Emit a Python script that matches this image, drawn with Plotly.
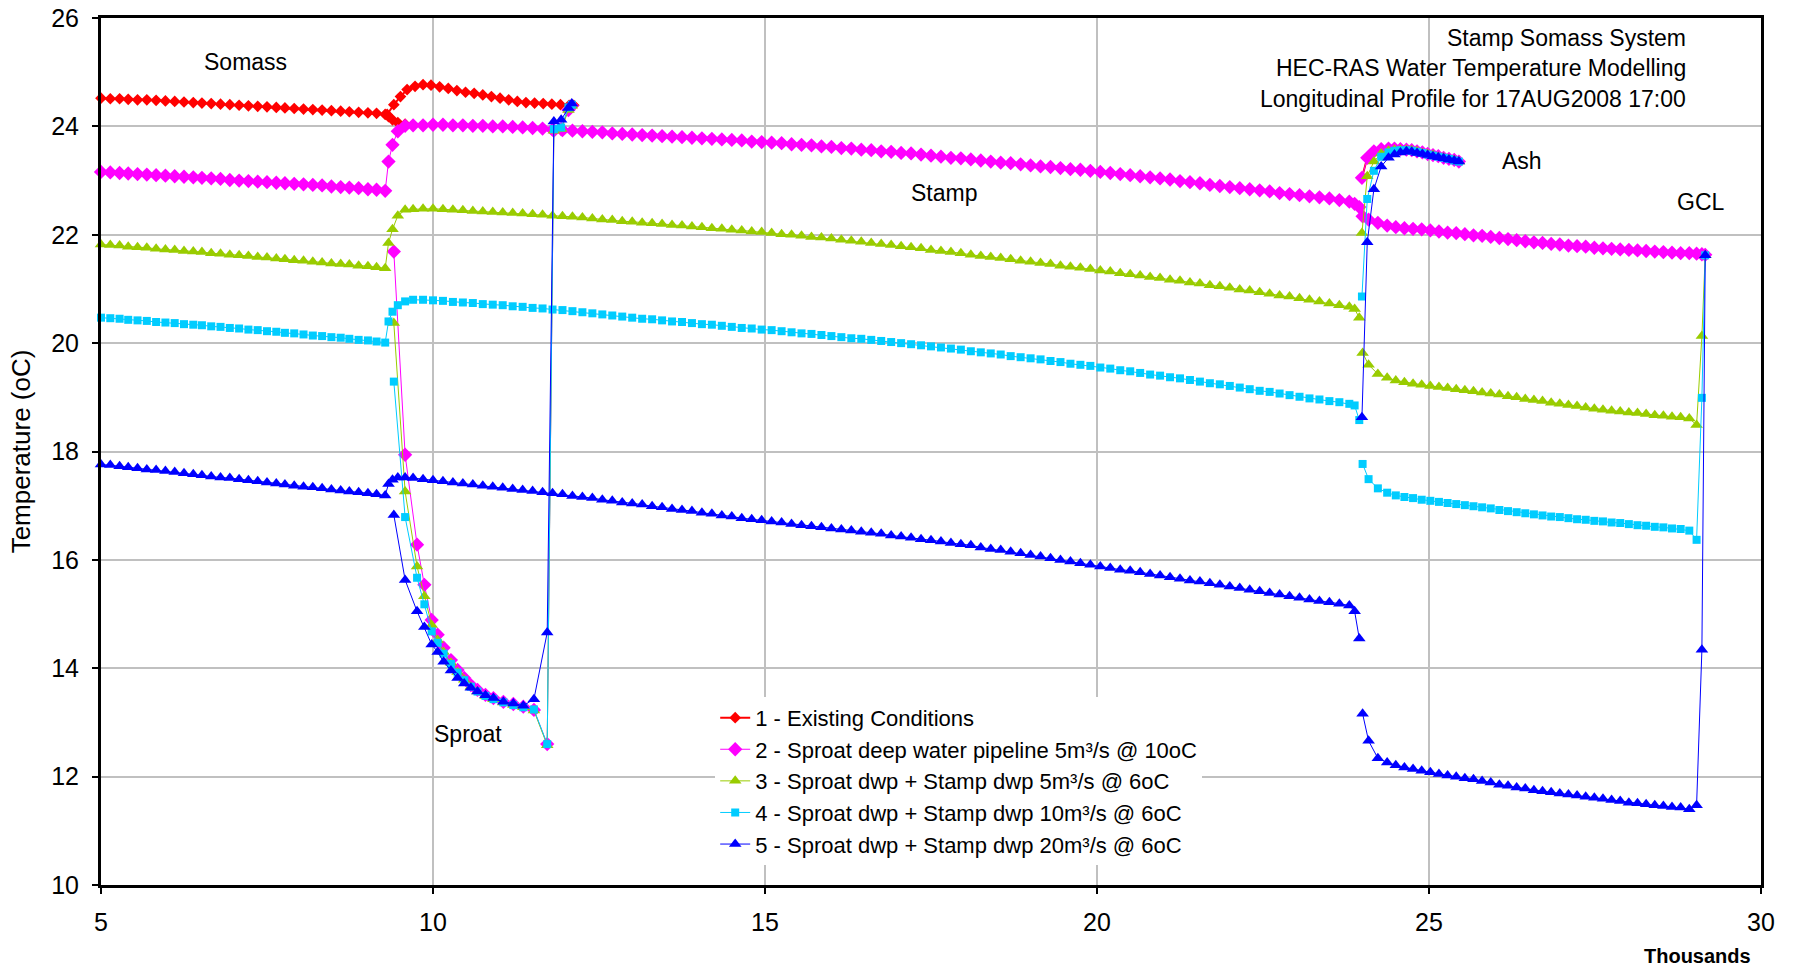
import plotly.graph_objects as go

# ---------------- stations (thousands of m) per reach ----------------
x_somass = [5.00, 5.14, 5.28, 5.41, 5.55, 5.69, 5.83, 5.97, 6.11, 6.25, 6.39, 6.52, 6.66, 6.80, 6.94,
            7.08, 7.22, 7.36, 7.50, 7.64, 7.77, 7.91, 8.05, 8.19, 8.33, 8.47, 8.61, 8.74, 8.88, 9.02,
            9.15, 9.28]

x_stamp_lower = [9.33, 9.39, 9.47, 9.58,
                 9.70, 9.85, 10.00, 10.15, 10.30, 10.45, 10.60, 10.75, 10.90,
                 11.05, 11.20, 11.35, 11.50, 11.65, 11.80, 11.95,
                 12.10, 12.25, 12.40, 12.55, 12.70, 12.85,
                 13.00, 13.15, 13.30, 13.45, 13.60, 13.75, 13.90,
                 14.05, 14.20, 14.35, 14.50, 14.65, 14.80, 14.95,
                 15.10, 15.25, 15.40, 15.55, 15.70, 15.85,
                 16.00, 16.15, 16.30, 16.45, 16.60, 16.75, 16.90,
                 17.05, 17.20, 17.35, 17.50, 17.65, 17.80, 17.95,
                 18.10, 18.25, 18.40, 18.55, 18.70, 18.85,
                 19.00, 19.15, 19.30, 19.45, 19.60, 19.75, 19.90,
                 20.05, 20.20, 20.35, 20.50, 20.65, 20.80, 20.95,
                 21.10, 21.25, 21.40, 21.55, 21.70, 21.85,
                 22.00, 22.15, 22.30, 22.45, 22.60, 22.75, 22.90,
                 23.05, 23.20, 23.35, 23.50, 23.65, 23.80,
                 23.88, 23.95]

x_sproat_existing = [9.31, 9.41, 9.51, 9.61, 9.73, 9.85, 9.97, 10.10, 10.23, 10.36, 10.49, 10.62,
                     10.75, 10.88, 11.01, 11.14, 11.27, 11.40, 11.53, 11.66, 11.79, 11.92, 12.05, 12.12]

x_sproat_dwp = [9.41, 9.58, 9.76, 9.87, 9.98, 10.07, 10.16, 10.27, 10.37, 10.47, 10.57, 10.67,
                10.79, 10.91, 11.06, 11.21, 11.36, 11.52, 11.72, 11.82, 11.93, 12.04, 12.09]

x_ash = [23.99, 24.07, 24.17, 24.28, 24.39, 24.48, 24.57, 24.66, 24.74, 24.82, 24.90, 24.98,
         25.06, 25.14, 25.22, 25.30, 25.38, 25.45]

x_stamp_upper = [24.00, 24.09, 24.23, 24.37, 24.50, 24.63, 24.76, 24.89, 25.02, 25.15, 25.28, 25.41,
                 25.54, 25.67, 25.80, 25.93, 26.06, 26.19, 26.32, 26.45, 26.58, 26.71, 26.84, 26.97,
                 27.10, 27.23, 27.36, 27.49, 27.62, 27.75, 27.88, 28.01, 28.14, 28.27, 28.40, 28.53,
                 28.66, 28.79, 28.92, 29.03, 29.11, 29.16]

# ---------------- series 2: Sproat deep water pipeline ----------------
s2_somass = [23.16, 23.15, 23.14, 23.13, 23.12, 23.11, 23.10, 23.09, 23.08, 23.07, 23.06, 23.05,
             23.04, 23.03, 23.01, 23.00, 22.99, 22.98, 22.97, 22.96, 22.95, 22.94, 22.93, 22.92,
             22.91, 22.89, 22.88, 22.87, 22.86, 22.84, 22.83, 22.81]
s2_stamp_lower = [23.35, 23.66, 23.91, 24.01,
                  24.02, 24.02, 24.03, 24.03, 24.02, 24.02, 24.01, 24.01, 24.00,
                  24.00, 23.99, 23.98, 23.97, 23.96, 23.94, 23.93,
                  23.92, 23.91, 23.90, 23.89, 23.87, 23.86,
                  23.85, 23.84, 23.83, 23.82, 23.81, 23.80, 23.79,
                  23.78, 23.77, 23.76, 23.75, 23.74, 23.72, 23.71,
                  23.70, 23.69, 23.67, 23.66, 23.65, 23.63,
                  23.62, 23.60, 23.59, 23.57, 23.56, 23.54, 23.53,
                  23.51, 23.50, 23.48, 23.46, 23.44, 23.42, 23.41,
                  23.39, 23.37, 23.35, 23.33, 23.32, 23.30,
                  23.28, 23.26, 23.25, 23.23, 23.21, 23.20, 23.18,
                  23.16, 23.14, 23.12, 23.10, 23.08, 23.06, 23.04,
                  23.02, 22.99, 22.97, 22.95, 22.92, 22.90,
                  22.88, 22.86, 22.84, 22.82, 22.80, 22.77, 22.75,
                  22.73, 22.71, 22.69, 22.67, 22.64, 22.61,
                  22.57, 22.51]
s2_sproat = [21.69, 17.94, 16.28, 15.54, 14.89, 14.62, 14.38, 14.15, 13.97, 13.82, 13.69, 13.60,
             13.51, 13.45, 13.38, 13.34, 13.29, 13.23, 12.60, 23.92, 23.95, 24.30, 24.38]
s2_ash = [23.05, 23.42, 23.54, 23.58, 23.59, 23.59, 23.58, 23.57, 23.56, 23.54, 23.52, 23.49,
          23.47, 23.45, 23.42, 23.40, 23.38, 23.35]
s2_stamp_upper = [22.34, 22.28, 22.22, 22.17, 22.14, 22.12, 22.11, 22.10, 22.08, 22.06, 22.04, 22.03,
                  22.01, 21.99, 21.98, 21.96, 21.94, 21.92, 21.90, 21.88, 21.86, 21.85, 21.83, 21.82,
                  21.80, 21.79, 21.78, 21.76, 21.75, 21.74, 21.73, 21.72, 21.71, 21.70, 21.69, 21.68,
                  21.67, 21.66, 21.66, 21.65, 21.64, 21.63]

# ---------------- series 1: existing conditions ----------------
s1_somass = [24.52, 24.51, 24.51, 24.50, 24.49, 24.49, 24.48, 24.47, 24.46, 24.45, 24.44, 24.43,
             24.42, 24.41, 24.40, 24.39, 24.38, 24.37, 24.36, 24.35, 24.34, 24.33, 24.32, 24.31,
             24.30, 24.29, 24.28, 24.27, 24.26, 24.25, 24.24, 24.22]
s1_stamp_lower = [24.18, 24.12, 24.07, 24.04] + s2_stamp_lower[4:]
s1_sproat = [24.22, 24.40, 24.55, 24.68, 24.74, 24.77, 24.76, 24.73, 24.70, 24.66, 24.63, 24.61,
             24.58, 24.55, 24.52, 24.49, 24.46, 24.44, 24.43, 24.42, 24.41, 24.40, 24.39, 24.39]
s1_ash = list(s2_ash)
s1_stamp_upper = list(s2_stamp_upper)

# ---------------- series 3 ----------------
s3_somass = [21.82, 21.81, 21.80, 21.78, 21.77, 21.76, 21.74, 21.73, 21.72, 21.70, 21.69, 21.68,
             21.66, 21.65, 21.63, 21.62, 21.61, 21.59, 21.58, 21.56, 21.55, 21.53, 21.52, 21.50,
             21.49, 21.47, 21.46, 21.45, 21.43, 21.42, 21.40, 21.38]
s3_stamp_lower = [21.85, 22.10, 22.35, 22.46,
                  22.47, 22.48, 22.48, 22.47, 22.46, 22.45, 22.44, 22.43, 22.42,
                  22.41, 22.40, 22.39, 22.38, 22.37, 22.35, 22.34,
                  22.33, 22.32, 22.30, 22.28, 22.27, 22.25,
                  22.24, 22.22, 22.21, 22.20, 22.18, 22.17, 22.15,
                  22.14, 22.12, 22.11, 22.09, 22.08, 22.06, 22.05,
                  22.03, 22.01, 22.00, 21.98, 21.96, 21.95,
                  21.93, 21.91, 21.89, 21.87, 21.85, 21.83, 21.81,
                  21.79, 21.77, 21.75, 21.72, 21.70, 21.68, 21.66,
                  21.63, 21.61, 21.59, 21.57, 21.55, 21.52,
                  21.50, 21.48, 21.46, 21.43, 21.41, 21.39, 21.37,
                  21.34, 21.32, 21.29, 21.27, 21.25, 21.22, 21.20,
                  21.17, 21.15, 21.12, 21.10, 21.07, 21.05,
                  21.02, 20.99, 20.97, 20.94, 20.91, 20.88, 20.86,
                  20.83, 20.80, 20.77, 20.73, 20.70, 20.67,
                  20.63, 20.47]
s3_sproat = [20.37, 17.26, 15.88, 15.33, 14.80, 14.52, 14.30, 14.10, 13.93, 13.79, 13.66, 13.57,
             13.49, 13.43, 13.37, 13.32, 13.28, 13.22, 12.58, 23.92, 23.95, 24.30, 24.38]
s3_ash = [22.03, 23.08, 23.35, 23.50, 23.55, 23.57, 23.57, 23.57, 23.56, 23.54, 23.51, 23.49,
          23.47, 23.44, 23.42, 23.40, 23.38, 23.35]
s3_stamp_upper = [19.82, 19.60, 19.43, 19.36, 19.31, 19.28, 19.25, 19.23, 19.21, 19.19, 19.17, 19.15,
                  19.13, 19.11, 19.09, 19.07, 19.05, 19.02, 19.00, 18.97, 18.95, 18.93, 18.90, 18.88,
                  18.86, 18.84, 18.81, 18.79, 18.77, 18.75, 18.74, 18.72, 18.71, 18.69, 18.67, 18.66,
                  18.64, 18.63, 18.61, 18.49, 20.13, 21.62]

# ---------------- series 4 ----------------
s4_somass = [20.47, 20.46, 20.45, 20.43, 20.42, 20.41, 20.39, 20.38, 20.37, 20.35, 20.34, 20.33,
             20.31, 20.30, 20.28, 20.27, 20.25, 20.24, 20.22, 20.21, 20.19, 20.18, 20.16, 20.14,
             20.13, 20.11, 20.10, 20.08, 20.06, 20.05, 20.03, 20.01]
s4_stamp_lower = [20.40, 20.58, 20.70, 20.77,
                  20.80, 20.80, 20.79, 20.78, 20.76, 20.75, 20.74, 20.72, 20.71,
                  20.70, 20.68, 20.67, 20.65, 20.64, 20.62, 20.61,
                  20.59, 20.57, 20.55, 20.53, 20.51, 20.49,
                  20.47, 20.45, 20.44, 20.42, 20.40, 20.39, 20.37,
                  20.35, 20.34, 20.32, 20.30, 20.28, 20.27, 20.25,
                  20.24, 20.22, 20.20, 20.18, 20.17, 20.15,
                  20.13, 20.11, 20.09, 20.08, 20.06, 20.04, 20.02,
                  20.00, 19.98, 19.96, 19.94, 19.92, 19.90, 19.88,
                  19.85, 19.83, 19.81, 19.79, 19.76, 19.74,
                  19.72, 19.70, 19.67, 19.65, 19.62, 19.60, 19.58,
                  19.55, 19.53, 19.50, 19.48, 19.45, 19.42, 19.40,
                  19.37, 19.35, 19.32, 19.29, 19.26, 19.24,
                  19.21, 19.18, 19.15, 19.12, 19.10, 19.07, 19.04,
                  19.01, 18.98, 18.96, 18.93, 18.91, 18.88,
                  18.85, 18.58]
s4_sproat = [19.29, 16.79, 15.67, 15.18, 14.68, 14.47, 14.27, 14.08, 13.92, 13.78, 13.66, 13.57,
             13.49, 13.43, 13.37, 13.32, 13.28, 13.24, 12.60, 23.95, 23.98, 24.35, 24.40]
s4_ash = [20.86, 22.66, 23.18, 23.44, 23.52, 23.55, 23.56, 23.56, 23.55, 23.53, 23.51, 23.48,
          23.46, 23.44, 23.42, 23.40, 23.37, 23.35]
s4_stamp_upper = [17.77, 17.49, 17.32, 17.24, 17.19, 17.16, 17.14, 17.11, 17.09, 17.07, 17.05, 17.03,
                  17.01, 16.99, 16.97, 16.95, 16.92, 16.90, 16.88, 16.86, 16.84, 16.82, 16.80, 16.79,
                  16.77, 16.75, 16.74, 16.72, 16.71, 16.69, 16.68, 16.66, 16.64, 16.63, 16.61, 16.60,
                  16.58, 16.57, 16.54, 16.37, 18.99, 21.62]

# ---------------- series 5 ----------------
s5_somass = [17.76, 17.75, 17.73, 17.71, 17.69, 17.67, 17.66, 17.64, 17.62, 17.60, 17.58, 17.56,
             17.54, 17.52, 17.51, 17.49, 17.47, 17.45, 17.43, 17.41, 17.39, 17.37, 17.35, 17.34,
             17.32, 17.30, 17.28, 17.26, 17.25, 17.23, 17.21, 17.19]
s5_stamp_lower = [17.40, 17.48, 17.52, 17.52,
                  17.51, 17.49, 17.47, 17.45, 17.43, 17.41, 17.39, 17.37, 17.35,
                  17.33, 17.31, 17.29, 17.27, 17.25, 17.23, 17.21,
                  17.18, 17.16, 17.14, 17.11, 17.09, 17.06,
                  17.04, 17.02, 16.99, 16.97, 16.94, 16.92, 16.90,
                  16.87, 16.85, 16.82, 16.80, 16.77, 16.75, 16.73,
                  16.71, 16.69, 16.66, 16.64, 16.62, 16.60,
                  16.58, 16.56, 16.54, 16.52, 16.50, 16.48, 16.45,
                  16.43, 16.41, 16.38, 16.36, 16.34, 16.31, 16.29,
                  16.27, 16.23, 16.20, 16.18, 16.15, 16.12,
                  16.09, 16.06, 16.03, 16.00, 15.97, 15.94, 15.91,
                  15.88, 15.85, 15.82, 15.80, 15.77, 15.74, 15.71,
                  15.68, 15.65, 15.62, 15.60, 15.57, 15.54,
                  15.51, 15.48, 15.45, 15.42, 15.39, 15.36, 15.33,
                  15.30, 15.27, 15.24, 15.22, 15.19, 15.16,
                  15.05, 14.55]
s5_sproat = [16.83, 15.63, 15.05, 14.76, 14.44, 14.30, 14.12, 13.96, 13.82, 13.72, 13.64, 13.57,
             13.50, 13.45, 13.38, 13.35, 13.31, 13.43, 14.66, 24.09, 24.12, 24.34, 24.42]
s5_ash = [18.63, 21.86, 22.84, 23.26, 23.42, 23.48, 23.52, 23.54, 23.53, 23.51, 23.49, 23.47,
          23.45, 23.43, 23.41, 23.39, 23.37, 23.35]
s5_stamp_upper = [13.16, 12.66, 12.34, 12.26, 12.21, 12.17, 12.14, 12.11, 12.08, 12.05, 12.02, 12.00,
                  11.97, 11.95, 11.92, 11.89, 11.85, 11.83, 11.80, 11.78, 11.75, 11.73, 11.71, 11.69,
                  11.67, 11.65, 11.63, 11.61, 11.59, 11.57, 11.55, 11.52, 11.51, 11.49, 11.47, 11.46,
                  11.44, 11.43, 11.40, 11.47, 14.34, 21.62]

names = ["1 - Existing Conditions",
         "2 - Sproat deep water pipeline 5m³/s @ 10oC",
         "3 - Sproat dwp + Stamp dwp 5m³/s @ 6oC",
         "4 - Sproat dwp + Stamp dwp 10m³/s @ 6oC",
         "5 - Sproat dwp + Stamp dwp 20m³/s @ 6oC"]

region_labels = ["Somass", "Sproat", "Stamp", "Ash", "GCL"]
region_x = [7.17, 10.53, 17.69, 26.40, 29.09]
region_y = [25.18, 12.79, 22.77, 23.36, 22.60]

title_lines = ["Stamp Somass System", "HEC-RAS Water Temperature Modelling",
               "Longitudinal Profile for 17AUG2008 17:00"]
title_y = [25.64, 25.07, 24.50]


def build(parts):
    xs, ys = [], []
    for px, py in parts:
        assert len(px) == len(py), (len(px), len(py))
        if xs:
            xs.append(None)
            ys.append(None)
        xs += list(px)
        ys += list(py)
    return xs, ys


series = [
    (s1_somass, s1_stamp_lower, s1_sproat, x_sproat_existing, s1_ash, s1_stamp_upper),
    (s2_somass, s2_stamp_lower, s2_sproat, x_sproat_dwp, s2_ash, s2_stamp_upper),
    (s3_somass, s3_stamp_lower, s3_sproat, x_sproat_dwp, s3_ash, s3_stamp_upper),
    (s4_somass, s4_stamp_lower, s4_sproat, x_sproat_dwp, s4_ash, s4_stamp_upper),
    (s5_somass, s5_stamp_lower, s5_sproat, x_sproat_dwp, s5_ash, s5_stamp_upper),
]

colors = ["#FF0000", "#FF00FF", "#99CC00", "#00CCFF", "#0000FF"]
symbols = ["diamond", "diamond", "triangle-up", "square", "triangle-up"]
msizes = [9, 11, 11, 8, 11]
lwidths = [2, 1, 1, 1, 1]

fig = go.Figure()
for i, (som, stl, spr, xspr, ash, stu) in enumerate(series):
    xs, ys = build([(x_somass + x_stamp_lower, som + stl), (xspr, spr), (x_ash, ash), (x_stamp_upper, stu)])
    fig.add_trace(go.Scatter(
        x=xs, y=ys, name=names[i], mode="lines+markers", connectgaps=False,
        line=dict(color=colors[i], width=lwidths[i]),
        marker=dict(symbol=symbols[i], size=msizes[i], color=colors[i], line=dict(width=0)),
        cliponaxis=False,
    ))

FONT = "Liberation Sans, Arial, sans-serif"
annotations = []
for t, x, y in zip(region_labels, region_x, region_y):
    annotations.append(dict(x=x, y=y, xref="x", yref="y", text=t, showarrow=False,
                            xanchor="center", yanchor="middle", font=dict(size=23, family=FONT, color="black")))
for t, y in zip(title_lines, title_y):
    annotations.append(dict(x=28.9, y=y, xref="x", yref="y", text=t, showarrow=False,
                            xanchor="right", yanchor="middle", font=dict(size=23, family=FONT, color="black")))
annotations.append(dict(x=0.962, y=-0.0815, xref="paper", yref="paper", text="<b>Thousands</b>",
                        showarrow=False, xanchor="center", yanchor="middle",
                        font=dict(size=20, family=FONT, color="black")))

fig.update_layout(
    width=1795, height=968,
    margin=dict(l=101, r=34, t=18, b=83, autoexpand=False),
    paper_bgcolor="white", plot_bgcolor="white",
    font=dict(family=FONT, size=22, color="black"),
    legend=dict(x=0.370, y=0.217, xanchor="left", yanchor="top", bgcolor="white",
                font=dict(size=22, family=FONT), tracegroupgap=0),
    annotations=annotations,
)
fig.update_xaxes(range=[5, 30], tick0=5, dtick=5, showgrid=True, gridcolor="#C0C0C0", gridwidth=2,
                 showline=True, linecolor="black", linewidth=3, mirror=True, zeroline=False,
                 ticks="outside", ticklen=6, tickwidth=2, tickcolor="black", automargin=False,
                 ticklabeloverflow="allow",
                 tickfont=dict(size=25, family=FONT), ticklabelstandoff=7)
fig.update_yaxes(range=[10, 26], tick0=10, dtick=2, showgrid=True, gridcolor="#C0C0C0", gridwidth=2,
                 showline=True, linecolor="black", linewidth=3, mirror=True, zeroline=False,
                 ticks="outside", ticklen=6, tickwidth=2, tickcolor="black", automargin=False,
                 ticklabeloverflow="allow",
                 tickfont=dict(size=25, family=FONT), ticklabelstandoff=8,
                 title=dict(text="Temperature (oC)", font=dict(size=26, family=FONT), standoff=14))

# remove the default page margin so the figure fills the window exactly; hide the mode bar
fig.write_html("out.html", config={"displayModeBar": False},
               post_script="document.body.style.margin='0';document.body.style.overflow='hidden';")
